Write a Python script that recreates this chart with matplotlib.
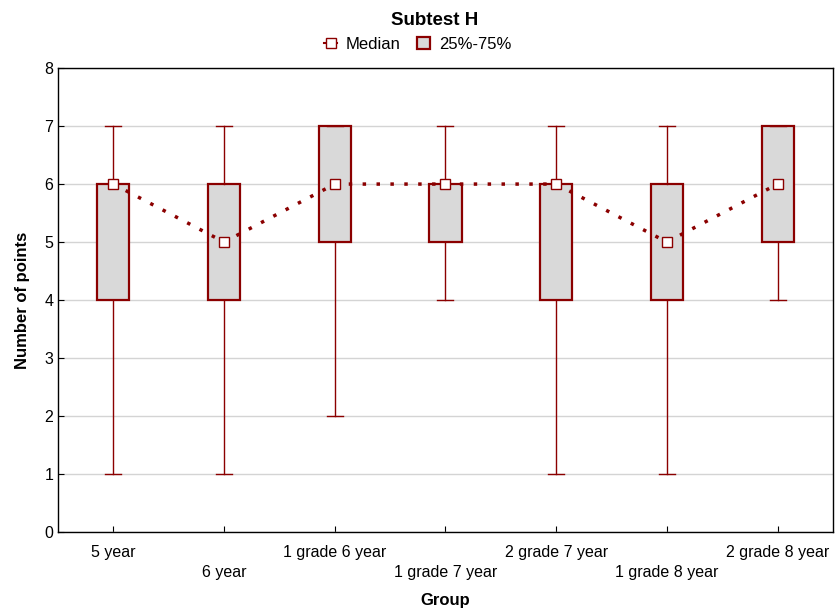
import matplotlib.pyplot as plt
import matplotlib.lines as mlines
import matplotlib.patches as mpatches

plt.rcParams['font.family'] = ['Liberation Sans', 'DejaVu Sans']

groups = ['5 year', '6 year', '1 grade 6 year', '1 grade 7 year',
          '2 grade 7 year', '1 grade 8 year', '2 grade 8 year']
mins = [1, 1, 2, 4, 1, 1, 4]
q1 = [4, 4, 5, 5, 4, 4, 5]
medians = [6, 5, 6, 6, 6, 5, 6]
q3 = [6, 6, 7, 6, 6, 6, 7]
maxs = [7, 7, 7, 7, 7, 7, 7]

dark = '#8B0000'
fill = '#D9D9D9'

fig = plt.figure(figsize=(8.35, 6.08), dpi=100)
ax = fig.add_axes([0.0695, 0.125, 0.928, 0.763])

pos = list(range(1, len(groups) + 1))
stats = [dict(whislo=a, q1=b, med=c, q3=d, whishi=e, label=g)
         for a, b, c, d, e, g in zip(mins, q1, medians, q3, maxs, groups)]
ax.bxp(stats, positions=pos, widths=0.29, showfliers=False, patch_artist=True,
       boxprops=dict(facecolor=fill, edgecolor=dark, linewidth=1.6),
       whiskerprops=dict(color=dark, linewidth=1.0),
       capprops=dict(color=dark, linewidth=1.0),
       medianprops=dict(linewidth=0), capwidths=0.145, zorder=2)

ax.plot(pos, medians, linestyle=(0, (1, 3)), linewidth=2.5, color=dark,
        marker='s', markersize=6.5, markerfacecolor='white', markeredgecolor=dark,
        markeredgewidth=1.0, zorder=3)

ax.set_xlim(0.5, 7.5)
ax.set_ylim(0, 8)
ax.set_yticks(range(0, 9))
ax.set_xticks(pos)
ax.set_xticklabels([g if i % 2 == 0 else '\n' + g for i, g in enumerate(groups)])
for lab in ax.get_xticklabels():
    lab.set_linespacing(1.5)
ax.tick_params(axis='both', direction='in', length=4, labelsize=11.5, color='black')
ax.tick_params(axis='x', pad=9)
ax.yaxis.grid(True, color='#D4D4D4', linewidth=1.0)
ax.set_axisbelow(True)
for s in ax.spines.values():
    s.set_linewidth(1.0)

ax.set_xlabel('Group', fontsize=12, fontweight='bold', labelpad=9)
ax.set_ylabel('Number of points', fontsize=12, fontweight='bold', labelpad=10)
fig.text(0.52, 0.967, 'Subtest H', ha='center', va='center', fontsize=13.5, fontweight='bold')

h1 = mlines.Line2D([], [], color=dark, marker='s', markersize=6.5, markerfacecolor='white',
                   linestyle='-', linewidth=1.5)
h2 = mpatches.Patch(facecolor=fill, edgecolor=dark, linewidth=1.6)
fig.legend([h1, h2], ['Median', '25%-75%'], loc='center', bbox_to_anchor=(0.5, 0.927),
           ncol=2, frameon=False, fontsize=12, handlelength=0.8, handletextpad=0.5,
           columnspacing=1.0)

plt.savefig('out.png')
